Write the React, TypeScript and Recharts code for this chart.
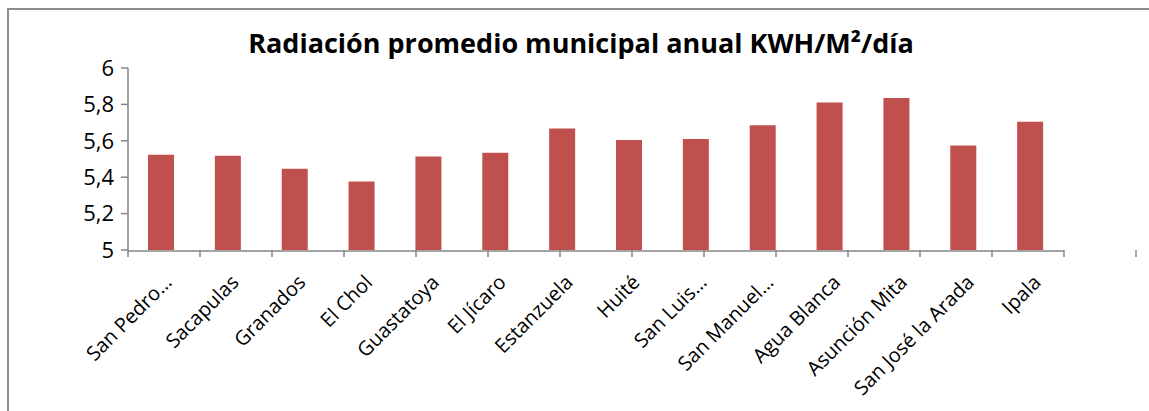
import { BarChart, Bar, XAxis, YAxis } from "recharts";

const municipios = [
  "San Pedro…",
  "Sacapulas",
  "Granados",
  "El Chol",
  "Guastatoya",
  "El Jícaro",
  "Estanzuela",
  "Huité",
  "San Luis…",
  "San Manuel…",
  "Agua Blanca",
  "Asunción Mita",
  "San José la Arada",
  "Ipala",
];

const radiacion = [5.524, 5.518, 5.447, 5.377, 5.514, 5.535, 5.668, 5.605, 5.61, 5.686, 5.81, 5.835, 5.574, 5.705];

const yTicks = [5, 5.2, 5.4, 5.6, 5.8, 6];

const chartTitle = "Radiación promedio municipal anual KWH/M²/día";

const data = municipios.map((name, i) => ({ name, value: radiacion[i] }));
// category boundaries for the excel-style tick marks between bars
const edgeTicks = [0, ...municipios.map((_, i) => i + 1)];

const FONT = "'Open Sans', 'DejaVu Sans', sans-serif";
const AXIS = "#868686";

// rotated category label, end of text sits under the bar centre
const AngledTick = (props: any) => {
  const { x, y, payload } = props;
  return (
    <g transform={`translate(${x + 1},${y + 14})`}>
      <text
        x={0}
        y={0}
        dy="0.75em"
        textAnchor="end"
        transform="rotate(-45)"
        fill="#000"
        fontSize={20}
        fontFamily={FONT}
      >
        {payload.value}
      </text>
    </g>
  );
};

const NoLabel = () => <g />;

export default function App() {
  return (
    <div style={{ position: "absolute", left: 0, top: 0, width: 1149, height: 411, background: "#fff", overflow: "hidden" }}>
      {/* chart frame, right/bottom edges fall outside the crop */}
      <div
        style={{
          position: "absolute",
          left: 7,
          top: 8,
          width: 1160,
          height: 420,
          borderLeft: "2px solid #8c8c8c",
          borderTop: "2px solid #8c8c8c",
        }}
      />
      <div
        style={{
          position: "absolute",
          left: 0,
          top: 27,
          width: 1162,
          textAlign: "center",
          fontFamily: FONT,
          fontWeight: 700,
          fontSize: 27,
          lineHeight: "32px",
          color: "#000",
        }}
      >
        {chartTitle}
      </div>
      <div style={{ position: "absolute", left: 0, top: 0 }}>
        <BarChart
          width={1149}
          height={411}
          data={data}
          margin={{ top: 68, right: 85, bottom: 0, left: 68 }}
          barCategoryGap="31%"
        >
          <XAxis
            xAxisId="axB"
            dataKey="name"
            interval={0}
            axisLine={{ stroke: AXIS, strokeWidth: 1.5 }}
            tickLine={false}
            tick={<AngledTick />}
            height={160}
          />
          <XAxis
            xAxisId="axA"
            type="number"
            scale="linear"
            domain={[0, municipios.length]}
            allowDataOverflow
            ticks={edgeTicks}
            interval={0}
            height={1}
            tick={<NoLabel />}
            axisLine={false}
            tickLine={{ stroke: AXIS, strokeWidth: 1.5 }}
            tickSize={7}
          />
          <YAxis
            domain={[5, 6]}
            ticks={yTicks}
            width={60}
            allowDataOverflow
            axisLine={{ stroke: AXIS, strokeWidth: 1.5 }}
            tickLine={{ stroke: AXIS, strokeWidth: 1.5 }}
            tickSize={7}
            tickMargin={7}
            tickFormatter={(v: number) => String(v).replace(".", ",")}
            tick={{ fill: "#000", fontSize: 22, fontFamily: FONT }}
          />
          <Bar xAxisId="axB" dataKey="value" fill="#C0504D" barSize={26} isAnimationActive={false} />
        </BarChart>
      </div>
    </div>
  );
}
